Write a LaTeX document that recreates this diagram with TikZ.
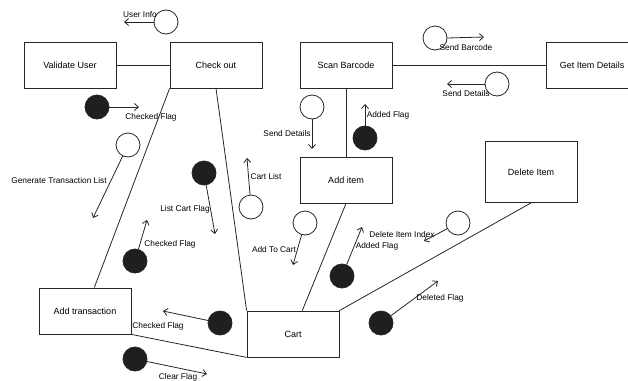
\documentclass[tikz,border=0pt]{standalone}
\usepackage{fontspec}
\setmainfont{Liberation Sans}
\usetikzlibrary{arrows.meta,calc}

\begin{document}
\begin{tikzpicture}[
  x=1pt,y=-1pt,
  font=\fontsize{8.3}{9}\selectfont,
  box/.style={draw=black!85,line width=0.8pt,minimum width=92pt,minimum height=46pt,align=center,
    font=\fontsize{9}{10}\selectfont},
  hollow/.style={circle,draw=black!85,line width=0.8pt,fill=white,minimum size=24pt,inner sep=0pt},
  flag/.style={circle,draw=black!85,line width=0.8pt,fill=black!88,minimum size=24pt,inner sep=0pt},
  lbl/.style={inner sep=0pt},
  conn/.style={line width=0.8pt,draw=black!85},
  arr/.style={-{Straight Barb[length=4pt,width=7pt]},line width=0.8pt,draw=black!85},
]
\clip (0,0) rectangle (628,380);
\node[box] (val) at (70,65) {Validate User};
\node[box] (chk) at (216,65) {Check out};
\node[box] (scan) at (346,65) {Scan Barcode};
\node[box] (get) at (592,65) {Get Item Details};
\node[box] (add) at (346,180) {Add item};
\node[box,minimum height=61pt] (del) at (531,172) {Delete Item};
\node[box] (trans) at (85,311) {Add transaction};
\node[box] (cart) at (293,334) {Cart};
\draw[conn] (val.east)--(chk.west);
\draw[conn] (scan.east)--(get.west);
\draw[conn] (chk.south west)--($(trans.north west)!0.6!(trans.north east)$);
\draw[conn] (chk.south)--(cart.north west);
\draw[conn] (scan.south)--(add.north);
\draw[conn] (add.south)--($(cart.north west)!0.6!(cart.north east)$);
\draw[conn] (del.south)--(cart.north east);
\draw[conn] (trans.south east)--(cart.south west);
% data and flags
\coordinate (uiE) at (124,22);
\coordinate (ckE) at (139,107);
\coordinate (sbE) at (484,37);
\coordinate (sdE) at (447,84);
\coordinate (sd2E) at (312,149);
\coordinate (afE) at (365,104);
\coordinate (gtE) at (93,218);
\coordinate (lcE) at (215,234);
\coordinate (clE) at (247,158);
\coordinate (acE) at (293,265);
\coordinate (ck2E) at (147,220);
\coordinate (diE) at (424,241);
\coordinate (af2E) at (362,227);
\coordinate (ck3E) at (163,311);
\coordinate (cfE) at (207,374);
\coordinate (dfE) at (438,281);
\node[hollow] (ui) at (166,22) {};
\node[flag] (ck) at (97,107) {};
\node[hollow] (sb) at (435,38) {};
\node[hollow] (sd) at (497,84) {};
\node[hollow] (sd2) at (312,107) {};
\node[flag] (af) at (365,138) {};
\node[hollow] (gt) at (128,145) {};
\node[flag] (lc) at (204,173) {};
\node[hollow] (cl) at (251,207) {};
\node[hollow] (ac) at (305,223) {};
\node[flag] (ck2) at (135,261) {};
\node[hollow] (di) at (458,223) {};
\node[flag] (af2) at (342,276) {};
\node[flag] (ck3) at (220,323) {};
\node[flag] (cf) at (135,359) {};
\node[flag] (df) at (381,323) {};
\draw[arr] (ui)--(uiE);
\draw[arr] (ck)--(ckE);
\draw[arr] (sb.east)--(sbE);
\draw[arr] (sd.west)--(sdE);
\draw[arr] (sd2.south)--(sd2E);
\draw[arr] (af.north)--(afE);
\draw[arr] (gt)--(gtE);
\draw[arr] (lc)--(lcE);
\draw[arr] (cl)--(clE);
\draw[arr] (ac)--(acE);
\draw[arr] (ck2)--(ck2E);
\draw[arr] (di)--(diE);
\draw[arr] (af2)--(af2E);
\draw[arr] (ck3)--(ck3E);
\draw[arr] (cf)--(cfE);
\draw[arr] (df)--(dfE);
\node[lbl] (uiL) at (140,15) {User Info};
\node[lbl] (ckL) at (151,117) {Checked Flag};
\node[lbl] (sbL) at (466,48) {Send Barcode};
\node[lbl] (sdL) at (466,94) {Send Details};
\node[lbl] (sd2L) at (287,134) {Send Details};
\node[lbl] (afL) at (388,115) {Added Flag};
\node[lbl] (gtL) at (59,181) {Generate Transaction List};
\node[lbl] (lcL) at (185,209) {List Cart Flag};
\node[lbl] (clL) at (266,177) {Cart List};
\node[lbl] (acL) at (274,250) {Add To Cart};
\node[lbl] (ck2L) at (170,244) {Checked Flag};
\node[lbl] (diL) at (402,235) {Delete Item Index};
\node[lbl] (af2L) at (377,246) {Added Flag};
\node[lbl] (ck3L) at (158,326) {Checked Flag};
\node[lbl] (cfL) at (178,377) {Clear Flag};
\node[lbl] (dfL) at (440,298) {Deleted Flag};
\end{tikzpicture}
\end{document}
